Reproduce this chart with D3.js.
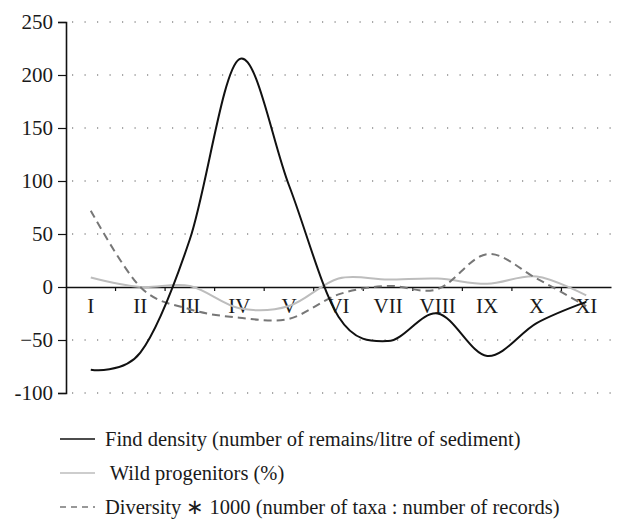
<!DOCTYPE html>
<html><head><meta charset="utf-8">
<script src="https://cdn.jsdelivr.net/npm/d3@7"></script>
<style>body{margin:0;background:#fff}svg{display:block}</style>
</head><body>
<svg id="c" width="622" height="526"></svg>
<script>
const categories = ["I","II","III","IV","V","VI","VII","VIII","IX","X","XI"];
const findDensity = [-78,-62,45,215,96,-28,-51,-25,-65,-34,-14];
const wildProgenitors = [9,0,1,-20,-18,8,7,8,3,10,-8];
const diversity = [72,0,-21,-29,-30,-7,1,-2,31,8,-18];
const yTicks = [250,200,150,100,50,0,-50,-100];
const yTickLabels = ["250","200","150","100","50","0","\u221250","-100"];
const legendLabels = [
  "Find density (number of remains/litre of sediment)",
  " Wild progenitors (%)",
  "Diversity \u2217 1000 (number of taxa : number of records)"
];

const svg = d3.select("#c");
const font = "'Liberation Serif','Times New Roman',serif";
const x = d3.scaleBand().domain(categories).range([66, 611]);
const y = d3.scaleLinear().domain([-100, 250]).range([393, 22]);

// gridlines
svg.append("g").selectAll("line").data(yTicks.filter(d => d !== 0)).join("line")
  .attr("x1", 66).attr("x2", 611)
  .attr("y1", d => y(d)).attr("y2", d => y(d))
  .attr("stroke", "#555").attr("stroke-width", 1.2)
  .attr("stroke-dasharray", "1.2,11.3").attr("stroke-dashoffset", -6);

// y axis
const yAxis = d3.axisLeft(y).tickValues(yTicks)
  .tickFormat((d, i) => yTickLabels[i]).tickSize(8).tickPadding(5);
const ga = svg.append("g").attr("transform", "translate(66,0)").call(yAxis);
ga.select(".domain").attr("stroke", "#111").attr("stroke-width", 1.6);
ga.selectAll(".tick line").attr("stroke", "#111").attr("stroke-width", 1.2);
ga.selectAll(".tick text").attr("font-family", font).attr("font-size", 21).attr("fill", "#1a1a1a");

// x axis at zero
const xAxis = d3.axisBottom(x).tickSize(0).tickPadding(11);
const gx = svg.append("g").attr("transform", `translate(0,${y(0)})`).call(xAxis);
gx.select(".domain").attr("stroke", "#111").attr("stroke-width", 1.6);
gx.selectAll(".tick text").attr("font-family", font).attr("font-size", 21).attr("fill", "#1a1a1a");
// boundary ticks between categories
svg.append("g").selectAll("line").data(categories.slice(1)).join("line")
  .attr("x1", d => x(d)).attr("x2", d => x(d))
  .attr("y1", y(0)).attr("y2", y(0) + 4)
  .attr("stroke", "#111").attr("stroke-width", 1.2);

const line = d3.line()
  .x((d, i) => x(categories[i]) + x.bandwidth() / 2)
  .y(d => y(d))
  .curve(d3.curveCardinal.tension(0));

const series = [
  {data: wildProgenitors, color: "#bdbdbd", dash: null, w: 2},
  {data: diversity, color: "#777", dash: "8,5", w: 2},
  {data: findDensity, color: "#111", dash: null, w: 2}
];
series.forEach(s => {
  svg.append("path").datum(s.data).attr("d", line)
    .attr("fill", "none").attr("stroke", s.color)
    .attr("stroke-width", s.w).attr("stroke-dasharray", s.dash);
});

// legend
const legendStyles = [
  {color: "#111", dash: null},
  {color: "#bdbdbd", dash: null},
  {color: "#777", dash: "6,5"}
];
const lg = svg.append("g");
legendLabels.forEach((t, i) => {
  const yy = 439 + i * 34;
  lg.append("line").attr("x1", 60).attr("x2", 95).attr("y1", yy).attr("y2", yy)
    .attr("stroke", legendStyles[i].color).attr("stroke-width", 1.6)
    .attr("stroke-dasharray", legendStyles[i].dash);
  lg.append("text").attr("x", 105).attr("y", yy + 7)
    .attr("font-family", font).attr("font-size", 20.5).attr("fill", "#1a1a1a")
    .attr("xml:space", "preserve").style("white-space", "pre")
    .text(t);
});
</script>
</body></html>
